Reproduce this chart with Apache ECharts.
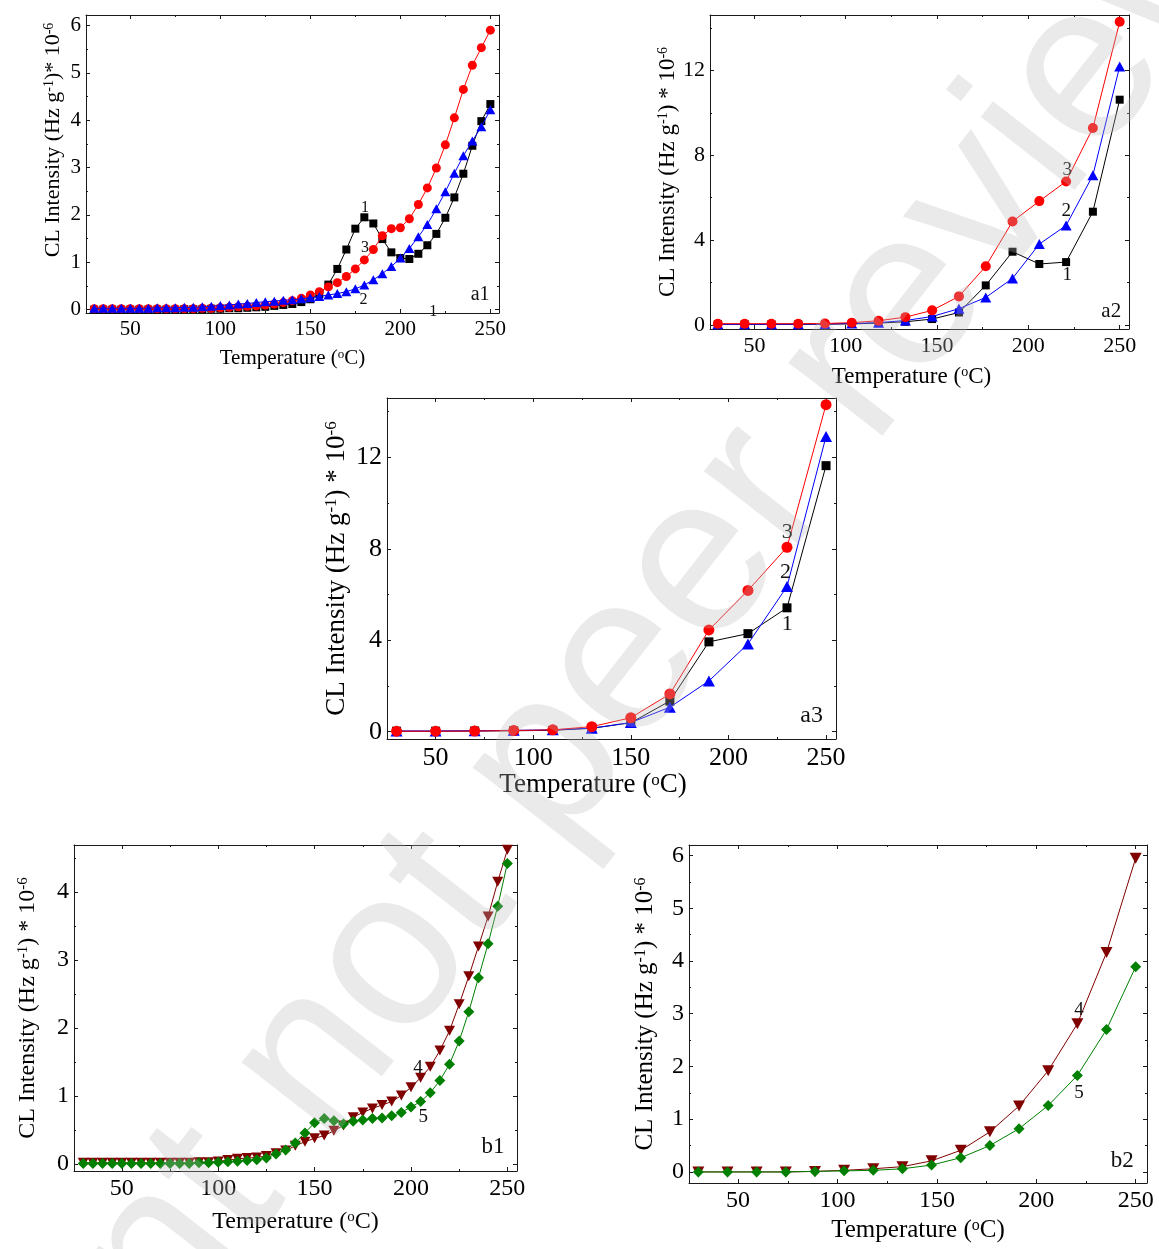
<!DOCTYPE html>
<html>
<head>
<meta charset="utf-8">
<script src="https://cdn.jsdelivr.net/npm/echarts@6/dist/echarts.min.js"></script>
<style>
  html, body { margin: 0; padding: 0; background: #ffffff; }
  #c { width: 1159px; height: 1249px; }
</style>
</head>
<body>
<div id="c"></div>
<script>
// ---- temperatures (°C) ----
const tempFine = [30,35,40,45,50,55,60,65,70,75,80,85,90,95,100,105,110,115,120,125,
  130,135,140,145,150,155,160,165,170,175,180,185,190,195,200,205,210,215,220,225,
  230,235,240,245,250];
const tempCoarse = [30,44.67,59.33,74,88.67,103.33,118,132.67,147.33,162,176.67,191.33,206,220.67,235.33,250];
const tempA3 = [30,50,70,90,110,130,150,170,190,210,230,250];

// ---- CL intensity, Hz g^-1 * 10^-6 ----
// panel a1 (5 °C steps)
const a1Curve1 = [0,0,0,0,0,0,0,0,0,0,
  0.01,0.01,0.01,0.02,0.02,0.03,0.03,0.04,0.05,0.06,
  0.08,0.1,0.12,0.16,0.22,0.33,0.53,0.86,1.27,1.71,
  1.95,1.82,1.49,1.21,1.09,1.07,1.18,1.36,1.6,1.94,
  2.37,2.87,3.46,3.98,4.34];
const a1Curve2 = [0.03,0.03,0.03,0.03,0.03,0.03,0.03,0.04,0.04,0.04,
  0.05,0.05,0.06,0.07,0.09,0.1,0.12,0.13,0.15,0.17,
  0.18,0.2,0.21,0.23,0.25,0.28,0.31,0.34,0.38,0.44,
  0.52,0.63,0.76,0.91,1.09,1.29,1.54,1.8,2.13,2.49,
  2.88,3.25,3.56,3.86,4.22];
const a1Curve3 = [0.02,0.02,0.02,0.02,0.02,0.02,0.02,0.02,0.02,0.02,
  0.02,0.02,0.03,0.03,0.04,0.05,0.06,0.07,0.08,0.1,
  0.12,0.15,0.19,0.24,0.31,0.38,0.48,0.57,0.7,0.86,
  1.05,1.27,1.56,1.71,1.73,1.92,2.22,2.57,2.99,3.48,
  4.05,4.65,5.16,5.53,5.9];
// panel a2
const a2Curve1 = [0.02,0.02,0.02,0.02,0.03,0.04,0.08,0.14,0.27,0.58,1.86,3.45,2.87,2.96,5.34,10.63];
const a2Curve2 = [0.02,0.02,0.02,0.03,0.04,0.06,0.1,0.2,0.39,0.76,1.29,2.19,3.81,4.69,7.06,12.2];
const a2Curve3 = [0.05,0.05,0.05,0.05,0.06,0.1,0.19,0.36,0.68,1.34,2.76,4.88,5.84,6.77,9.29,14.31];
// panel a3
const a3Curve1 = [0.02,0.02,0.03,0.04,0.06,0.15,0.39,1.34,3.93,4.29,5.42,11.64];
const a3Curve2 = [0.03,0.03,0.04,0.06,0.08,0.15,0.4,1.07,2.22,3.84,6.35,12.92];
const a3Curve3 = [0.02,0.02,0.03,0.05,0.08,0.22,0.61,1.65,4.45,6.18,8.07,14.31];
// panel b1 (5 °C steps)
const b1Curve4 = [0.02,0.02,0.02,0.02,0.02,0.02,0.02,0.02,0.02,0.02,
  0.02,0.02,0.03,0.03,0.04,0.06,0.08,0.09,0.1,0.12,
  0.16,0.2,0.27,0.33,0.38,0.42,0.49,0.57,0.69,0.76,
  0.82,0.87,0.92,1.01,1.13,1.27,1.43,1.67,1.96,2.35,
  2.76,3.2,3.64,4.15,4.62];
const b1Curve5 = [0.01,0.01,0.01,0.01,0.01,0.01,0.01,0.01,0.01,0.01,
  0.01,0.01,0.02,0.02,0.03,0.035,0.045,0.055,0.065,0.09,
  0.15,0.21,0.31,0.46,0.61,0.67,0.64,0.59,0.63,0.65,
  0.67,0.68,0.71,0.76,0.84,0.92,1.05,1.23,1.47,1.81,
  2.24,2.74,3.24,3.79,4.42];
// panel b2
const b2Curve4 = [0,0,0,0,0.01,0.03,0.06,0.1,0.21,0.41,0.76,1.25,1.92,2.81,4.16,5.95];
const b2Curve5 = [0,0,0,0,0.01,0.02,0.03,0.06,0.13,0.27,0.5,0.82,1.26,1.83,2.7,3.89];

// ---- tick values ----
const xMajor = [50,100,150,200,250];
const xMinor = [75,125,175,225];
const yMajorSmall = [0,1,2,3,4,5,6];
const yMinorSmall = [0.5,1.5,2.5,3.5,4.5,5.5];
const yMajorB1 = [0,1,2,3,4];
const yMinorB1 = [0.5,1.5,2.5,3.5,4.5];
const yMajorLarge = [0,4,8,12];
const yMinorLarge = [2,6,10,14];

const FONT = 'Liberation Serif';
const BLACK = '#000000', RED = '#ff0000', BLUE = '#0000ff', WINE = '#800000', GREEN = '#008000';
const TRI_DOWN = 'path://M0,0 L10,0 L5,9 Z';

const panels = [
  { rect: [86, 15, 413, 298], x: [25.4, 254.8], y: [-0.07, 6.22],
    yMajor: yMajorSmall, yMinor: yMinorSmall,
    tickSize: 21, titleSize: 21, yTitleSize: 22, xGap: 35, yGap: 22,
    xPad: [0, 0, 0, 0], yPad: [0, 0, 0, 48],
    yName: 'CL Intensity (Hz g{s|-1})* 10{s|-6}',
    series: [
      { t: tempFine, v: a1Curve1, color: BLACK, symbol: 'rect', size: 8 },
      { t: tempFine, v: a1Curve3, color: RED, symbol: 'circle', size: 9 },
      { t: tempFine, v: a1Curve2, color: BLUE, symbol: 'triangle', size: [10, 9] }
    ],
    notes: [
      { x: 180.4, y: 2.15, text: '1', size: 16 },
      { x: 180.4, y: 1.3, text: '3', size: 16 },
      { x: 179.5, y: 0.21, text: '2', size: 16 },
      { x: 218.3, y: -0.05, text: '1', size: 16 },
      { x: 244.3, y: 0.32, text: 'a1', size: 20 }
    ] },
  { rect: [710, 15, 419, 314], x: [25.7, 255.1], y: [-0.2, 14.63],
    yMajor: yMajorLarge, yMinor: yMinorLarge,
    tickSize: 22, titleSize: 23, yTitleSize: 23, xGap: 36, yGap: 31,
    xPad: [0, 16, 0, 0], yPad: [0, 0, 0, 0],
    yName: 'CL Intensity (Hz g{s|-1}) * 10{s|-6}',
    series: [
      { t: tempCoarse, v: a2Curve1, color: BLACK, symbol: 'rect', size: 8 },
      { t: tempCoarse, v: a2Curve2, color: BLUE, symbol: 'triangle', size: [11, 10] },
      { t: tempCoarse, v: a2Curve3, color: RED, symbol: 'circle', size: 10 }
    ],
    notes: [
      { x: 221.3, y: 7.32, text: '3', size: 19 },
      { x: 220.8, y: 5.35, text: '2', size: 19 },
      { x: 221.3, y: 2.36, text: '1', size: 19 },
      { x: 245.4, y: 0.63, text: 'a2', size: 21 }
    ] },
  { rect: [387, 398, 449, 341], x: [25.1, 255.1], y: [-0.32, 14.6],
    yMajor: yMajorLarge, yMinor: yMinorLarge,
    tickSize: 26, titleSize: 27, yTitleSize: 27, xGap: 31, yGap: 37,
    xPad: [0, 37, 0, 0], yPad: [0, 0, 0, 0],
    yName: 'CL Intensity (Hz g{s|-1}) * 10{s|-6}',
    series: [
      { t: tempA3, v: a3Curve1, color: BLACK, symbol: 'rect', size: 9 },
      { t: tempA3, v: a3Curve2, color: BLUE, symbol: 'triangle', size: [12, 11] },
      { t: tempA3, v: a3Curve3, color: RED, symbol: 'circle', size: 11 }
    ],
    notes: [
      { x: 230.1, y: 8.72, text: '3', size: 22 },
      { x: 229.2, y: 6.96, text: '2', size: 22 },
      { x: 230.1, y: 4.7, text: '1', size: 22 },
      { x: 242.6, y: 0.69, text: 'a3', size: 24 }
    ] },
  { rect: [74, 845, 443, 326], x: [25.2, 255], y: [-0.1, 4.69],
    yMajor: yMajorB1, yMinor: yMinorB1,
    tickSize: 24, titleSize: 24, yTitleSize: 24, xGap: 39, yGap: 34,
    xPad: [0, 0, 0, 0], yPad: [0, 0, 0, 0],
    yName: 'CL Intensity (Hz g{s|-1}) * 10{s|-6}',
    series: [
      { t: tempFine, v: b1Curve4, color: WINE, symbol: TRI_DOWN, size: [11, 10] },
      { t: tempFine, v: b1Curve5, color: GREEN, symbol: 'diamond', size: 11 }
    ],
    notes: [
      { x: 203.7, y: 1.42, text: '4', size: 19 },
      { x: 206.4, y: 0.7, text: '5', size: 19 },
      { x: 242.5, y: 0.26, text: 'b1', size: 23 }
    ] },
  { rect: [689, 845, 458, 338], x: [25.3, 255.7], y: [-0.21, 6.2],
    yMajor: yMajorSmall, yMinor: yMinorSmall,
    tickSize: 24, titleSize: 25, yTitleSize: 25, xGap: 35, yGap: 31,
    xPad: [0, 0, 0, 0], yPad: [0, 0, 0, 0],
    yName: 'CL Intensity (Hz g{s|-1}) * 10{s|-6}',
    series: [
      { t: tempCoarse, v: b2Curve4, color: WINE, symbol: TRI_DOWN, size: [12, 11] },
      { t: tempCoarse, v: b2Curve5, color: GREEN, symbol: 'diamond', size: 11 }
    ],
    notes: [
      { x: 221.5, y: 3.07, text: '4', size: 19 },
      { x: 221.5, y: 1.49, text: '5', size: 19 },
      { x: 243.2, y: 0.2, text: 'b2', size: 23 }
    ] }
];

const frame = { color: '#1a1a1a', width: 1 };
const grids = [], xAxes = [], yAxes = [], series = [];
const firstSeries = [];

function supRich(size) {
  return { s: { fontFamily: FONT, fontSize: Math.round(size * 0.62), color: '#000', verticalAlign: 'top' } };
}

function addAxes(gridIndex, p, minor) {
  const tickLen = minor ? 2 : 4;
  const xVals = minor ? xMinor : xMajor;
  const yVals = minor ? p.yMinor : p.yMajor;
  const xi = xAxes.length, yi = yAxes.length;
  ['bottom', 'top'].forEach(pos => {
    const main = !minor && pos === 'bottom';
    xAxes.push({
      gridIndex, type: 'value', position: pos, min: p.x[0], max: p.x[1],
      axisLine: { show: !minor, onZero: false, lineStyle: frame },
      axisTick: { show: true, inside: true, length: tickLen, customValues: xVals, lineStyle: frame },
      axisLabel: { show: main, customValues: xMajor, margin: 6, fontFamily: FONT, fontSize: p.tickSize, color: '#000' },
      splitLine: { show: false },
      name: main ? 'Temperature ({s|o}C)' : '',
      nameLocation: 'middle', nameGap: p.xGap,
      nameTextStyle: { fontFamily: FONT, fontSize: p.titleSize, color: '#000', padding: p.xPad, rich: supRich(p.titleSize) }
    });
  });
  ['left', 'right'].forEach(pos => {
    const main = !minor && pos === 'left';
    yAxes.push({
      gridIndex, type: 'value', position: pos, min: p.y[0], max: p.y[1],
      axisLine: { show: !minor, onZero: false, lineStyle: frame },
      axisTick: { show: true, inside: true, length: tickLen, customValues: yVals, lineStyle: frame },
      axisLabel: { show: main, customValues: p.yMajor, margin: 5, fontFamily: FONT, fontSize: p.tickSize, color: '#000' },
      splitLine: { show: false },
      name: main ? p.yName : '',
      nameLocation: 'middle', nameGap: p.yGap,
      nameTextStyle: { fontFamily: FONT, fontSize: p.yTitleSize, color: '#000', padding: p.yPad, rich: supRich(p.yTitleSize) }
    });
  });
  return { xi, yi };
}

panels.forEach((p, i) => {
  const [l, t, w, h] = p.rect;
  grids.push({ left: l, top: t, width: w, height: h, containLabel: false });
  const gMain = grids.length - 1;
  grids.push({ left: l, top: t, width: w, height: h, containLabel: false });
  const gMinor = grids.length - 1;
  const ax = addAxes(gMain, p, false);
  addAxes(gMinor, p, true);
  firstSeries.push(series.length);
  p.series.forEach((s, k) => {
    series.push({
      type: 'line', xAxisIndex: ax.xi, yAxisIndex: ax.yi,
      data: s.t.map((tv, j) => [tv, s.v[j]]),
      symbol: s.symbol, symbolSize: s.size, showAllSymbol: true, clip: false,
      lineStyle: { color: s.color, width: 1 },
      itemStyle: { color: s.color },
      z: 3 + k, animation: false, silent: true
    });
  });
});

const chart = echarts.init(document.getElementById('c'), null, { renderer: 'canvas', width: 1159, height: 1249 });
chart.setOption({
  backgroundColor: '#ffffff',
  animation: false,
  grid: grids, xAxis: xAxes, yAxis: yAxes, series: series
});

// curve numbers and panel tags, placed in data units of each panel
const graphics = [];
panels.forEach((p, i) => {
  p.notes.forEach(n => {
    const pt = chart.convertToPixel({ seriesIndex: firstSeries[i] }, [n.x, n.y]);
    graphics.push({
      type: 'text', x: pt[0], y: pt[1], z: 50, silent: true,
      style: { text: n.text, fontFamily: FONT, fontSize: n.size, fill: '#111', align: 'center', verticalAlign: 'middle' }
    });
  });
});
// diagonal preprint stamp across the page
graphics.push({
  type: 'text', x: 566, y: 740, rotation: 52 * Math.PI / 180, z: 100, silent: true,
  style: { text: 'Preprint not peer reviewed', fontFamily: 'Liberation Sans', fontSize: 225,
           fill: 'rgba(185,185,185,0.3)', align: 'center', verticalAlign: 'middle' }
});
chart.setOption({ graphic: graphics });
</script>
</body>
</html>
